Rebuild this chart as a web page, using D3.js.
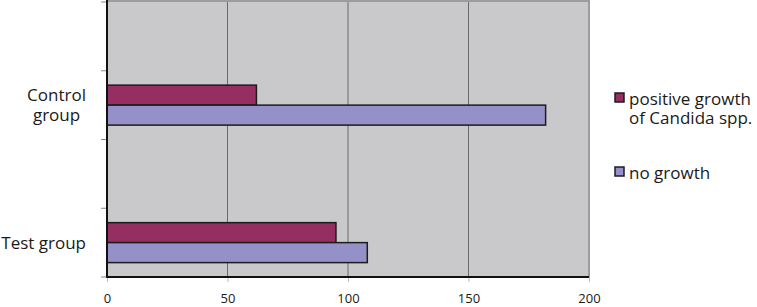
<!DOCTYPE html>
<html>
<head>
<meta charset="utf-8">
<script src="https://cdn.jsdelivr.net/npm/d3@7"></script>
<style>
  body { margin: 0; background: #fff; }
  text { font-family: "Open Sans", sans-serif; fill: #1a1a1a; }
</style>
</head>
<body>
<div id="chart"></div>
<script>
// categories top to bottom (two empty slots as in the original sheet)
let categories = ["", "Control group", " ", "Test group"];
let series = ["positive growth of Candida spp.", "no growth"];
let positiveGrowth = [null, 62, null, 95];
let noGrowth = [null, 182, null, 108];
let xTicks = [0, 50, 100, 150, 200];
let colors = ["#952f62", "#9591c8"];

let width = 757, height = 307;
let plotLeft = 107, plotRight = 589, plotTop = 2, plotBottom = 277;

let svg = d3.select("#chart").append("svg")
    .attr("width", width)
    .attr("height", height);

let xScale = d3.scaleLinear().domain([0, 200]).range([plotLeft, plotRight]);
let yScale = d3.scaleBand().domain(categories).range([plotTop, plotBottom]).padding(0);
let ySub = d3.scaleBand().domain(series).range([0, yScale.bandwidth()]).paddingInner(0).paddingOuter(0.72);

// plot background
svg.append("rect")
    .attr("x", plotLeft).attr("y", plotTop)
    .attr("width", plotRight - plotLeft).attr("height", plotBottom - plotTop)
    .style("fill", "#c9c9cb");

// gridlines
svg.append("g").selectAll("line").data(xTicks.slice(1, -1)).enter().append("line")
    .attr("x1", d => xScale(d)).attr("x2", d => xScale(d))
    .attr("y1", plotTop).attr("y2", plotBottom)
    .style("stroke", "#6a6a6a").style("stroke-width", 1);

// grey frame top / right
svg.append("path")
    .attr("d", "M" + plotLeft + "," + (plotTop - 1) + "H" + plotRight + "V" + plotBottom)
    .style("fill", "none").style("stroke", "#9c9c9c").style("stroke-width", 2);

// bars
let rows = categories.map((c, i) => ({ cat: c, vals: [positiveGrowth[i], noGrowth[i]] }));
let groups = svg.append("g").selectAll("g").data(rows).enter().append("g")
    .attr("transform", d => "translate(0," + yScale(d.cat) + ")");

groups.selectAll("rect")
    .data(d => d.vals.map((v, j) => ({ s: series[j], v: v, j: j })).filter(d => d.v != null))
    .enter().append("rect")
    .attr("x", xScale(0))
    .attr("y", d => ySub(d.s))
    .attr("width", d => xScale(d.v) - xScale(0))
    .attr("height", ySub.bandwidth())
    .style("fill", d => colors[d.j])
    .style("stroke", "#1c1c1c")
    .style("stroke-width", 1.5);

// x axis
let xAxis = d3.axisBottom(xScale).tickValues(xTicks).tickSize(5).tickPadding(12).tickFormat(d3.format("d"));
let gx = svg.append("g").attr("transform", "translate(0," + plotBottom + ")").call(xAxis);
gx.select(".domain").remove();
gx.selectAll(".tick line").style("stroke", "#bbb");
gx.selectAll("text").style("font-size", "13px").style("font-family", "Open Sans, sans-serif").attr("fill", "#1a1a1a");

svg.append("line")
    .attr("x1", plotLeft - 1).attr("x2", plotRight)
    .attr("y1", plotBottom).attr("y2", plotBottom)
    .style("stroke", "#111").style("stroke-width", 2);

// y axis
let boundaries = categories.map(c => yScale(c)).concat([plotBottom]);
svg.append("g").selectAll("line").data(boundaries).enter().append("line")
    .attr("x1", plotLeft - 6).attr("x2", plotLeft)
    .attr("y1", d => d).attr("y2", d => d)
    .style("stroke", "#888").style("stroke-width", 1);

svg.append("line")
    .attr("x1", plotLeft).attr("x2", plotLeft)
    .attr("y1", 0).attr("y2", plotBottom + 1)
    .style("stroke", "#111").style("stroke-width", 2);

// category labels (wrapped lines centred on each other, block right-aligned)
let labelLines = { "Control group": ["Control", "group"], "Test group": ["Test group"] };
categories.forEach(function(c) {
    let lines = labelLines[c];
    if (!lines) return;
    let cy = yScale(c) + yScale.bandwidth() / 2;
    let t = svg.append("text")
        .attr("text-anchor", "middle")
        .style("font-size", "17px");
    let lh = 20;
    let y0 = cy - (lines.length - 1) * lh / 2 + 6;
    lines.forEach((l, i) => t.append("tspan").attr("x", 0).attr("y", y0 + i * lh).text(l));
    let w = t.node().getBBox().width;
    t.selectAll("tspan").attr("x", 86 - w / 2);
});

// legend
let legendItems = [
    { lines: ["positive growth", "of Candida spp."], color: colors[0], y: 98 },
    { lines: ["no growth"], color: colors[1], y: 172 }
];
legendItems.forEach(function(item) {
    svg.append("rect")
        .attr("x", 615).attr("y", item.y - 5)
        .attr("width", 9).attr("height", 9)
        .style("fill", item.color)
        .style("stroke", "#1c1c1c").style("stroke-width", 1.5);
    let t = svg.append("text").style("font-size", "17px");
    item.lines.forEach((l, i) => t.append("tspan").attr("x", 629).attr("y", item.y + 7 + i * 19).text(l));
});
</script>
</body>
</html>
